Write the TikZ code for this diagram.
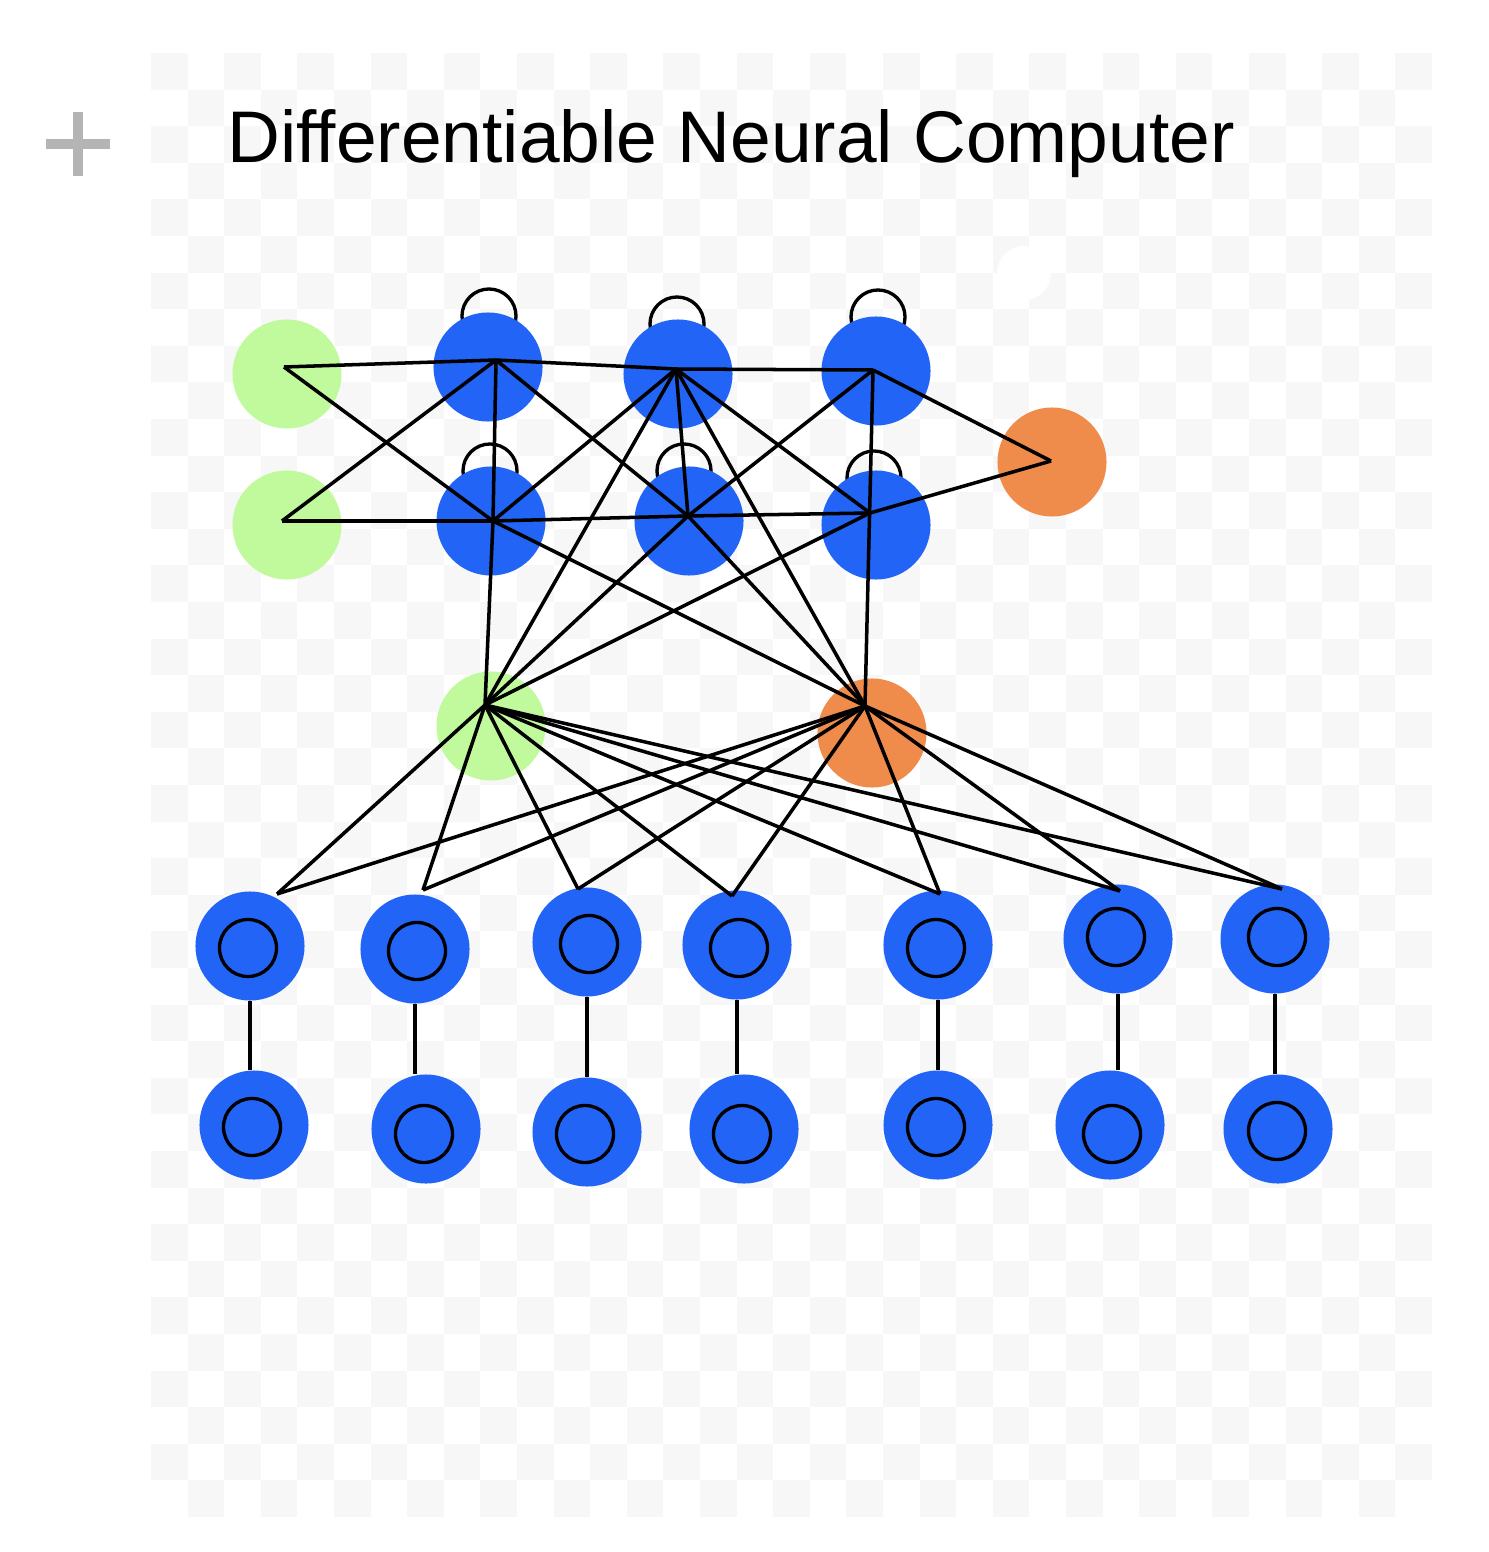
\documentclass[tikz,border=0pt]{standalone}
\usepackage{fontspec}
\setmainfont{Liberation Sans}
\usetikzlibrary{arrows}
\definecolor{nodeblue}{HTML}{2264F5}
\definecolor{nodegreen}{HTML}{C1FA9C}
\definecolor{nodeorange}{HTML}{F08C4B}
\definecolor{checkgray}{HTML}{F7F7F7}
\definecolor{plusgray}{HTML}{B4B4B4}

\begin{document}
\begin{tikzpicture}[x=0.01cm,y=-0.01cm,
    neuron/.style={circle,minimum size=1.09cm,inner sep=0pt},
    blue neuron/.style={neuron,fill=nodeblue},
    in neuron/.style={neuron,fill=nodegreen},
    out neuron/.style={neuron,fill=nodeorange},
    link/.style={black,line width=1pt},
    ring/.style={black,line width=0.95pt}]

  \useasboundingbox (0,0) rectangle (1488,1552);

  % checkerboard backdrop
  \foreach \r in {0,...,39}
    \foreach \c in {0,...,34}{
      \pgfmathtruncatemacro{\odd}{mod(\r+\c,2)}
      \ifnum\odd=0
        \fill[checkgray] (151+36.6*\c,53+36.6*\r) rectangle ++(36.6,36.6);
      \fi
    }

  % plus sign and title
  \fill[plusgray] (46,139) rectangle (110,149);
  \fill[plusgray] (73,112) rectangle (83,176);
  \node[anchor=base west,inner sep=0pt,font=\fontsize{20.8}{25}\selectfont]
    (title) at (227,163) {Differentiable Neural Computer};
  \fill[white] (1024,273) circle (0.27cm);

  % self loops (behind the controller cells)
  \foreach \x/\y in {489/316,677/324,878/317,490/471,684/471,874/478}
    \draw[ring] (\x,\y) circle (0.27cm);

  % controller
  \node[in neuron] (g1) at (287,374) {};
  \node[in neuron] (g2) at (287,525) {};
  \node[blue neuron] (b1) at (488,367) {};
  \node[blue neuron] (b2) at (678,374) {};
  \node[blue neuron] (b3) at (876,371) {};
  \node[blue neuron] (b4) at (491,521) {};
  \node[blue neuron] (b5) at (689,521) {};
  \node[blue neuron] (b6) at (876,525) {};
  \node[out neuron] (o1) at (1052,462) {};
  \node[in neuron] (gm) at (491,726) {};
  \node[out neuron] (om) at (872,733) {};

  \coordinate (g1h) at (284,367);
  \coordinate (g2h) at (282,521);
  \coordinate (b1h) at (496,360);
  \coordinate (b2h) at (676,369);
  \coordinate (b3h) at (873,370);
  \coordinate (b4h) at (493,521);
  \coordinate (b5h) at (688,516);
  \coordinate (b6h) at (870,513);
  \coordinate (o1h) at (1051,461);
  \coordinate (gmh) at (485,705);
  \coordinate (omh) at (865,706);

  % memory
  \foreach \i/\x/\y/\ix/\iy/\hx/\hy in {1/250/946/248/948/277/894,
      2/415/949/417/951/423/890, 3/587/942/589/944/578/889,
      4/737/945/739/948/732/896, 5/938/945/936/948/940/894,
      6/1118/939/1116/937/1120/891, 7/1275/939/1277/937/1282/889}{
    \node[blue neuron] (m\i) at (\x,\y) {};
    \draw[ring] (\ix,\iy) circle (0.285cm);
    \coordinate (mh\i) at (\hx,\hy);
  }
  \foreach \i/\x/\y/\ix/\iy in {1/254/1125/252/1127, 2/426/1129/424/1134,
      3/587/1132/585/1134, 4/744/1129/742/1134, 5/938/1125/936/1127,
      6/1110/1125/1112/1134, 7/1278/1129/1277/1131}{
    \node[blue neuron] (n\i) at (\x,\y) {};
    \draw[ring] (\ix,\iy) circle (0.285cm);
  }

  % connections
  \foreach \a/\b in {g1h/b1h,g1h/b4h,g2h/b1h,g2h/b4h,b1h/b2h,b2h/b3h,
      b1h/b4h,b1h/b5h,b2h/b4h,b2h/b5h,b2h/b6h,b2h/gmh,b2h/omh,b3h/b5h,
      b3h/o1h,b3h/omh,b4h/b5h,b5h/b6h,b4h/gmh,b4h/omh,b5h/gmh,b5h/omh,
      b6h/o1h,b6h/gmh}
    \draw[link] (\a) -- (\b);
  \foreach \i in {1,...,7}{
    \draw[link] (gmh) -- (mh\i);
    \draw[link] (omh) -- (mh\i);
    \draw[link] (m\i.south) -- (m\i.south |- n\i.north);
  }

\end{tikzpicture}
\end{document}
